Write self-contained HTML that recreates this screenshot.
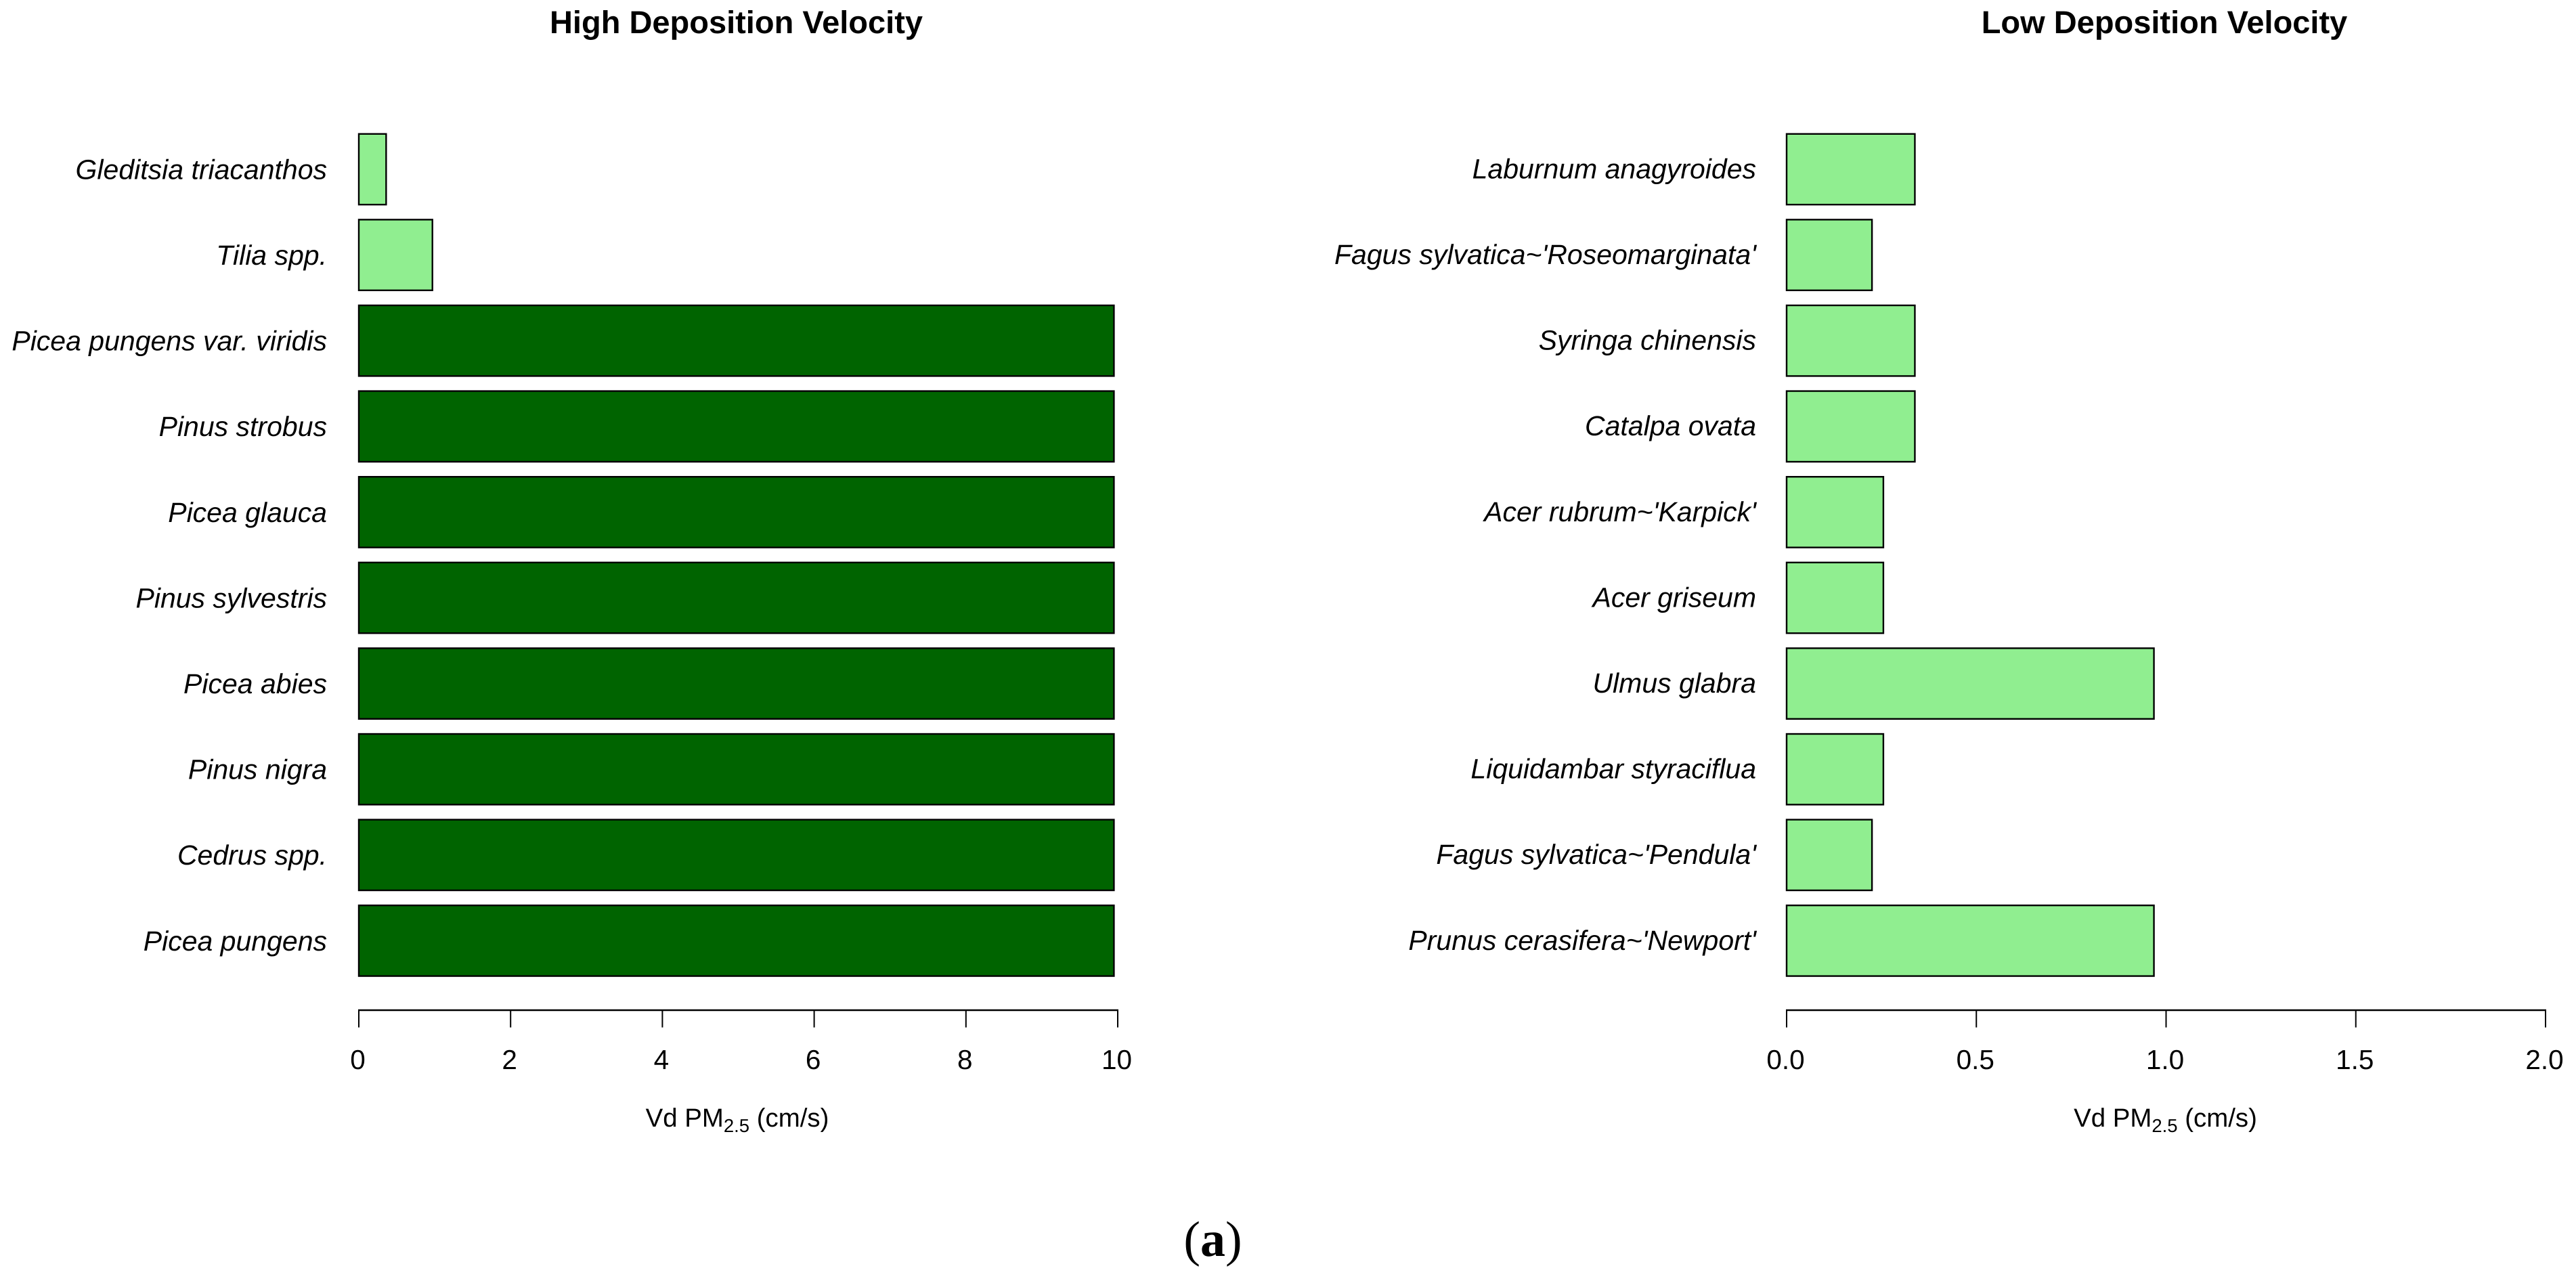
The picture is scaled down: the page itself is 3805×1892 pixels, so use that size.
<!DOCTYPE html>
<html lang="en">
<head>
<meta charset="utf-8">
<title>Deposition velocity of PM2.5 by species</title>
<style>
html,body{margin:0;padding:0;background:#fff;width:3805px;height:1892px;overflow:hidden}
svg{display:block;position:absolute;left:0;top:0}
text{font-family:"Liberation Sans",Arial,sans-serif;fill:#000;text-rendering:geometricPrecision}
.sp{font-style:italic;font-size:41px;text-anchor:end}
.tick{font-size:40.5px;text-anchor:middle}
.xt{font-size:38.4px;text-anchor:middle}
.ttl{font-size:47px;font-weight:bold;text-anchor:middle}
</style>
</head>
<body>
<svg id="fig" xmlns="http://www.w3.org/2000/svg" width="3805" height="1892" viewBox="0 0 3805 1892">
<text x="1791.5" y="1855" text-anchor="middle" style="font-family:'Liberation Serif',serif;font-size:74px">(<tspan font-weight="bold">a</tspan>)</text>
</svg>
<script>
var highSpecies = ["Gleditsia triacanthos","Tilia spp.","Picea pungens var. viridis","Pinus strobus","Picea glauca","Pinus sylvestris","Picea abies","Pinus nigra","Cedrus spp.","Picea pungens"];
var highValues = [0.36,0.97,9.95,9.95,9.95,9.95,9.95,9.95,9.95,9.95];
var highTicks = [0,2,4,6,8,10];
var highTickLabels = ["0","2","4","6","8","10"];
var lowSpecies = ["Laburnum anagyroides","Fagus sylvatica~'Roseomarginata'","Syringa chinensis","Catalpa ovata","Acer rubrum~'Karpick'","Acer griseum","Ulmus glabra","Liquidambar styraciflua","Fagus sylvatica~'Pendula'","Prunus cerasifera~'Newport'"];
var lowValues = [0.338,0.225,0.338,0.338,0.255,0.255,0.968,0.255,0.225,0.968];
var lowTicks = [0,0.5,1,1.5,2];
var lowTickLabels = ["0.0","0.5","1.0","1.5","2.0"];
var highTitle = "High Deposition Velocity";
var lowTitle = "Low Deposition Velocity";

var NS = "http://www.w3.org/2000/svg";
var svg = document.getElementById("fig");

function make(tag, attrs, parent) {
  var el = document.createElementNS(NS, tag);
  for (var k in attrs) { el.setAttribute(k, attrs[k]); }
  parent.appendChild(el);
  return el;
}

function drawPanel(cfg) {
  var g = make("g", {}, svg);
  
  

  function xScale(v) { return cfg.x0 + (v - cfg.min) / (cfg.max - cfg.min) * (cfg.x1 - cfg.x0); }
  function yTop(i) { return 196.6 + 126.6 * i; }

  var title = make("text", {x: cfg.titleX, y: 49, "class": "ttl"}, g);
  title.textContent = cfg.title;
  
  

  cfg.values.forEach(function (v, i) {
    var bar = make("rect", {
      x: xScale(0),
      y: yTop(i) + 1.2,
      width: xScale(v) - xScale(0),
      height: 104.4,
      fill: v > 5 ? "#006400" : "#90EE90",
      stroke: "#000",
      "stroke-width": 2.4
    }, g);
    
    

    var lab = make("text", {x: cfg.labelX, y: yTop(i) + 53 + cfg.labelDy, "class": "sp"}, g);
    lab.textContent = cfg.species[i];
    
    
  });

  var axisY = 1492;
  var axis = make("line", {x1: xScale(cfg.ticks[0]) - 1, x2: xScale(cfg.ticks[cfg.ticks.length - 1]) + 1, y1: axisY, y2: axisY, stroke: "#000", "stroke-width": 2.6}, g);
  
  

  cfg.ticks.forEach(function (t, i) {
    var tick = make("line", {x1: xScale(t), x2: xScale(t), y1: axisY, y2: 1517.5, stroke: "#000", "stroke-width": 2}, g);
    
    

    var tl = make("text", {x: xScale(t) - 1.5, y: 1579, "class": "tick"}, g);
    tl.textContent = cfg.tickLabels[i];
    
    
  });

  var xt = make("text", {x: cfg.xTitleX, y: 1664, "class": "xt"}, g);
  
  
  xt.appendChild(document.createTextNode("Vd PM"));
  var sub = make("tspan", {"font-size": "27.5", dy: "8"}, xt);
  sub.textContent = "2.5";
  var rest = make("tspan", {dy: "-8"}, xt);
  rest.textContent = " (cm/s)";
}

drawPanel({panelName: "high-deposition-panel", title: highTitle, titleX: 1087.5, species: highSpecies, values: highValues, ticks: highTicks, tickLabels: highTickLabels, min: 0, max: 10, x0: 530, x1: 1651, labelX: 483, labelDy: 14.8, xTitleX: 1089});
drawPanel({panelName: "low-deposition-panel", title: lowTitle, titleX: 3197, species: lowSpecies, values: lowValues, ticks: lowTicks, tickLabels: lowTickLabels, min: 0, max: 2, x0: 2639, x1: 3760, labelX: 2594, labelDy: 13.8, xTitleX: 3198.5});
</script>
</body>
</html>
